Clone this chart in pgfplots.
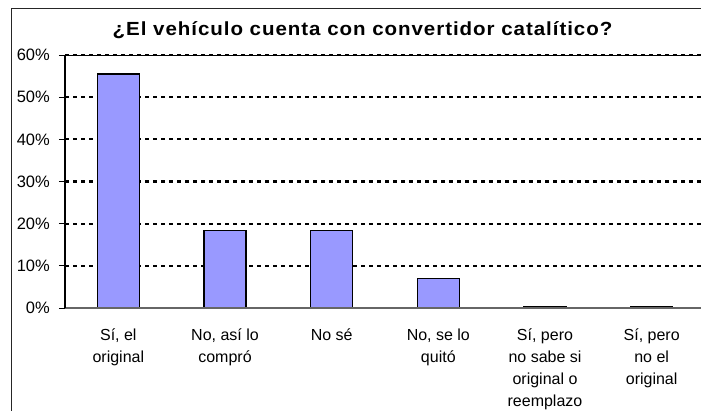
\documentclass[border=0pt]{standalone}
\usepackage{fontspec}
\setmainfont{Liberation Sans}
\newfontfamily\titlefont{Liberation Sans}[LetterSpace=5, FakeStretch=1.08]
\usepackage{pgfplots}
\pgfplotsset{compat=1.18}
\definecolor{barblue}{HTML}{9999FF}
\begin{document}
\begin{tikzpicture}
\draw[line width=1bp, black!85] (11bp,-411bp) -- (11bp,-8bp) -- (710bp,-8bp);
\node[anchor=base, inner sep=0pt, font=\titlefont\bfseries\fontsize{19bp}{22bp}\selectfont] at (362.5bp,-35bp) {¿El vehículo cuenta con convertidor catalítico?};
\begin{axis}[
  at={(65bp,-308bp)}, anchor=south west,
  scale only axis, width=640bp, height=253bp,
  xmin=-0.5, xmax=5.5, ymin=0, ymax=60,
  axis line style={draw=none},
  ybar, bar width=42bp,
  xtick={0,1,2,3,4,5},
  xticklabels={{Sí, el\\original},{No, así lo\\compró},{No sé},{No, se lo\\quitó},{Sí, pero\\no sabe si\\original o\\reemplazo},{Sí, pero\\no el\\original}},
  xtick style={draw=none},
  xticklabel style={align=center, inner sep=0pt, anchor=north, yshift=-15bp, font=\fontsize{16bp}{22bp}\selectfont},
  extra x ticks={-0.5,0.5,1.5,2.5,3.5,4.5,5.5},
  extra x tick labels={},
  extra x tick style={tick style={draw=gray, line width=1.2bp}, major tick length=5bp, tick align=outside},
  xtick pos=left, ytick pos=left,
  ytick={0,10,20,30,40,50,60},
  yticklabels={0\%,10\%,20\%,30\%,40\%,50\%,60\%},
  ytick style={draw=black, line width=1bp},
  major tick length=6bp, tick align=outside,
  yticklabel style={inner sep=0pt, anchor=east, xshift=-9bp, font=\fontsize{16.5bp}{19bp}\selectfont},
  minor ytick={10,20,30,40,50,60},
  yminorgrids,
  minor tick length=0pt,
  minor grid style={black, line width=2.2bp, dash pattern=on 3.5bp off 4.5bp},
  clip=false,
]
\addplot[fill=barblue, draw=black, line width=1.6bp] coordinates {(0,55.5) (1,18.4) (2,18.4) (3,7.0) (4,0.4) (5,0.4)};
\draw[black, line width=1bp] (axis cs:-0.5,60) -- (axis cs:5.5,60);
\draw[gray!80!black, line width=1.5bp] (axis cs:-0.5,0) -- (axis cs:5.5,0);
\draw[black, line width=1.5bp] (axis cs:-0.5,0) -- (axis cs:-0.5,60);
\end{axis}
\pgfresetboundingbox
\path[use as bounding box] (0,0) rectangle (701bp,-411bp);
\end{tikzpicture}
\end{document}
